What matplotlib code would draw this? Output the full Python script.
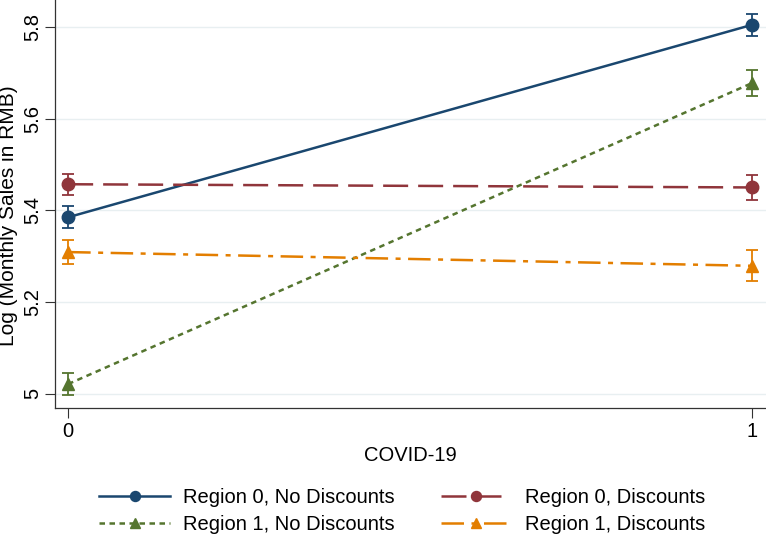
import matplotlib
matplotlib.use('Agg')
import matplotlib.pyplot as plt

plt.rcParams['font.family'] = ['Liberation Sans', 'DejaVu Sans']

# data (margins plot, Stata style)
covid = [0, 1]
labels = ['Region 0, No Discounts', 'Region 0, Discounts',
          'Region 1, No Discounts', 'Region 1, Discounts']
r0_nodisc = [5.385, 5.805]
r0_nodisc_err = [0.024, 0.024]
r0_disc = [5.457, 5.450]
r0_disc_err = [0.023, 0.028]
r1_nodisc = [5.021, 5.678]
r1_nodisc_err = [0.024, 0.028]
r1_disc = [5.309, 5.279]
r1_disc_err = [0.026, 0.034]
yticks = [5.0, 5.2, 5.4, 5.6, 5.8]
yticklabels = ['5', '5.2', '5.4', '5.6', '5.8']

fig = plt.figure(figsize=(7.66, 5.36), dpi=100)
ax = fig.add_axes([0.072, 0.239, 0.928, 0.761])

series = [
    (r0_nodisc, r0_nodisc_err, '#1a476f', '-', 'o'),
    (r0_disc, r0_disc_err, '#90353b', (0, (10, 4)), 'o'),
    (r1_nodisc, r1_nodisc_err, '#55752f', (0, (2.2, 1.8)), '^'),
    (r1_disc, r1_disc_err, '#e37e00', (0, (9, 3, 2, 3)), '^'),
]
handles = []
for (vals, err, col, ls, mk), lab in zip(series, labels):
    ax.errorbar(covid, vals, yerr=err, fmt='none', ecolor=col, elinewidth=1.3,
                capsize=4.5, capthick=1.3, zorder=2)
    h, = ax.plot(covid, vals, color=col, ls=ls, lw=1.8, marker=mk, markersize=9,
                 label=lab, zorder=3)
    handles.append(h)

ax.set_xlim(-0.019, 1.02)
ax.set_ylim(4.969, 5.859)
ax.set_xticks(covid)
ax.set_yticks(yticks)
ax.set_yticklabels(yticklabels, rotation=90, va='center')
ax.tick_params(axis='both', labelsize=14.5, length=7, width=0.8, colors='#333333',
               labelcolor='black', direction='out')
ax.tick_params(axis='y', pad=2)
ax.grid(axis='y', color='#e8eff1', lw=1.0, zorder=0)
ax.spines['top'].set_visible(False)
ax.spines['right'].set_visible(False)
for s in ['left', 'bottom']:
    ax.spines[s].set_color('#333333')
    ax.spines[s].set_linewidth(0.9)

ax.set_xlabel('COVID-19', fontsize=14.5, labelpad=3)
ax.set_ylabel('Log (Monthly Sales in RMB)', fontsize=15)
ax.yaxis.set_label_coords(-0.052, 0.47)

# row-major order like the Stata legend
order = [0, 2, 1, 3]
fig.legend([handles[i] for i in order], [labels[i] for i in order],
           loc='lower center', ncol=2, frameon=False, fontsize=14.5,
           handlelength=3.5, handletextpad=0.65, columnspacing=2.3,
           labelspacing=0.4, markerscale=0.8, borderaxespad=0.0,
           bbox_to_anchor=(0.525, -0.012))

fig.savefig('out.png', dpi=100, facecolor='white')
